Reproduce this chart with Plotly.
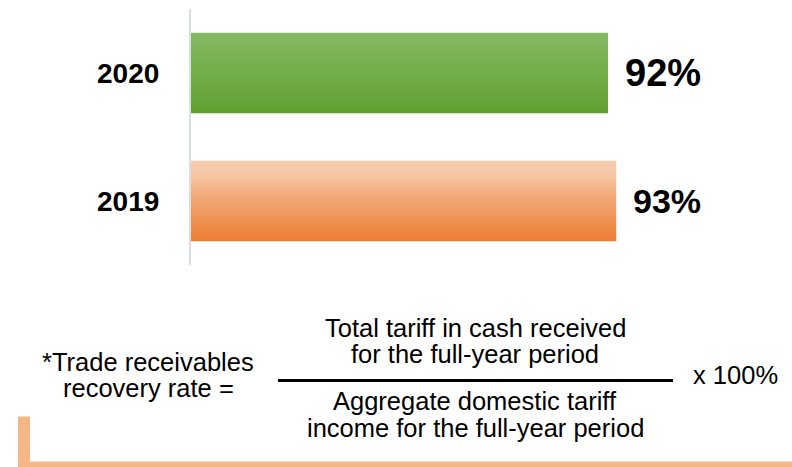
import plotly.graph_objects as go

# ---- data ----
years = ["2019", "2020"]
rates = [93.4, 91.6]
rate_labels = ["93%", "92%"]
label_sizes = [34, 38]
bar_scales = [
    [[0, "#ED7D31"], [0.5, "#F1A571"], [0.85, "#F6C8A8"], [1, "#F7CDAF"]],
    [[0, "#60A030"], [0.5, "#71AE48"], [1, "#85B964"]],
]

formula_left = ["*Trade receivables", "recovery rate ="]
numerator = ["Total tariff in cash received", "for the full-year period"]
denominator = ["Aggregate domestic tariff", "income for the full-year period"]
multiplier = "x 100%"

# ---- layout geometry (pixels) ----
W, H = 792, 467
L, R, T, B = 190, 0, 9, 202
PW, PH = W - L - R, H - T - B
HALF = 0.315


def px(x):
    return (x - L) / PW


def py(y):
    return (H - B - y) / PH


FONT = "Liberation Sans, Arial, sans-serif"

fig = go.Figure()
for i, (yr, v) in enumerate(zip(years, rates)):
    fig.add_trace(go.Scatter(
        x=[0, v, v, 0, 0],
        y=[i - HALF, i - HALF, i + HALF, i + HALF, i - HALF],
        mode="lines", fill="toself",
        line=dict(width=0, color="rgba(0,0,0,0)"),
        fillgradient=dict(type="vertical", colorscale=bar_scales[i]),
        hoverinfo="skip", showlegend=False,
    ))

annotations = []
for i, (yr, v, lab) in enumerate(zip(years, rates, rate_labels)):
    annotations.append(dict(
        x=0, xref="paper", y=i, yref="y", text=f"<b>{yr}</b>",
        xanchor="right", yanchor="middle", xshift=-29, showarrow=False,
        font=dict(family=FONT, size=28, color="#000000"),
    ))
    annotations.append(dict(
        x=v, xref="x", y=i, yref="y", text=f"<b>{lab}</b>",
        xanchor="left", yanchor="middle", xshift=15, showarrow=False,
        font=dict(family=FONT, size=label_sizes[i], color="#000000"),
    ))


def txt(s, xc, yc, anchor="center"):
    annotations.append(dict(
        x=px(xc), xref="paper", y=py(yc), yref="paper", text=s,
        xanchor=anchor, yanchor="middle", showarrow=False,
        font=dict(family=FONT, size=25.5, color="#000000"),
    ))


txt(formula_left[0], 148, 362)
txt(formula_left[1], 148, 388)
txt(numerator[0], 475, 328)
txt(numerator[1], 475, 354)
txt(denominator[0], 475, 401)
txt(denominator[1], 475, 428)
txt(multiplier, 691, 375, anchor="left")

shapes = [
    # vertical axis line
    dict(type="line", xref="paper", yref="paper", x0=0, x1=0, y0=0, y1=1,
         line=dict(color="#D9DEE6", width=2)),
    # fraction bar
    dict(type="line", xref="paper", yref="paper", x0=px(278), x1=px(673),
         y0=py(380.5), y1=py(380.5), line=dict(color="#000000", width=3)),
    # orange bracket
    dict(type="rect", xref="paper", yref="paper", x0=px(18), x1=px(30),
         y0=py(467), y1=py(416.5), line=dict(width=0), fillcolor="#F5B688"),
    dict(type="rect", xref="paper", yref="paper", x0=px(18), x1=px(792),
         y0=py(467), y1=py(461.5), line=dict(width=0), fillcolor="#F5B688"),
]

fig.update_layout(
    width=W, height=H,
    margin=dict(l=L, r=R, t=T, b=B),
    paper_bgcolor="white", plot_bgcolor="white",
    xaxis=dict(range=[0, 131.9], visible=False, fixedrange=True),
    yaxis=dict(range=[-0.5, 1.5], visible=False, fixedrange=True),
    annotations=annotations, shapes=shapes, showlegend=False,
)
fig.write_html(
    "out.html",
    config={"displayModeBar": False},
    post_script="document.body.style.margin='0';document.body.style.padding='0';document.body.style.overflow='hidden';",
)
